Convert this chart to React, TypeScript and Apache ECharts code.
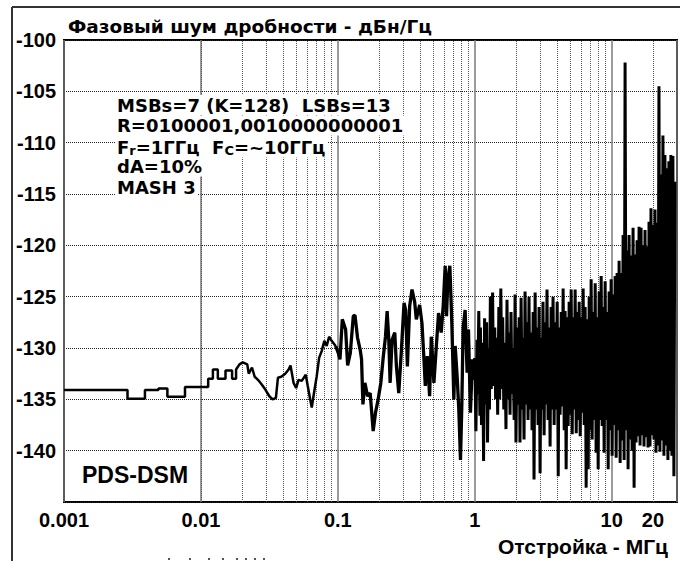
import React, { useEffect, useRef } from "react";
import * as echarts from "echarts";

// ---------- data ----------
const yMin = -145;
const yMax = -100;
const xMin = 0.001;
const xMax = 30;

// frequencies (MHz) for dotted minor grid lines
const minorGridFreqs = [
  0.002, 0.003, 0.004, 0.005, 0.006, 0.007, 0.008, 0.009,
  0.02, 0.03, 0.04, 0.05, 0.06, 0.07, 0.08, 0.09,
  0.2, 0.3, 0.4, 0.5, 0.6, 0.7, 0.8, 0.9,
  2, 3, 4, 5, 6, 7, 8, 9, 20,
];
const extraTickLabels = [20];

// [offset MHz, dBc/Hz]
const lowBand: [number, number][] = [
  [0.001, -134.1], [0.00291, -134.1], [0.00291, -134.95], [0.0039, -134.95], [0.0039, -134.1],
  [0.00489, -134.1], [0.00489, -133.95], [0.00569, -133.95], [0.00569, -134.75], [0.00765, -134.75],
  [0.00765, -133.8], [0.0113, -133.8], [0.0113, -133.0], [0.01223, -133.0], [0.01223, -132.1],
  [0.01329, -132.1], [0.01329, -133.0], [0.01512, -133.0], [0.01512, -132.2], [0.01689, -132.2],
  [0.01689, -133.0], [0.01806, -133.0], [0.01806, -132.1], [0.01912, -131.6], [0.02021, -131.4],
  [0.0218, -131.6], [0.02234, -132.5], [0.0236, -131.9], [0.0247, -132.8], [0.0261, -133.1],
  [0.02763, -133.5], [0.02955, -134.05], [0.0316, -134.7], [0.0334, -135.0], [0.0353, -134.85],
  [0.0365, -132.9], [0.0386, -132.8], [0.0413, -132.5], [0.0437, -132.1], [0.0451, -131.7],
  [0.0461, -132.4], [0.0475, -133.4], [0.0496, -133.9], [0.0516, -133.1], [0.0545, -133.2],
  [0.0583, -132.6], [0.0603, -133.7], [0.0628, -135.0], [0.0645, -135.8], [0.0664, -134.7],
  [0.0701, -132.75], [0.073, -130.96], [0.0762, -130.3], [0.0797, -129.3], [0.0829, -129.8],
  [0.0863, -128.9], [0.0901, -129.3], [0.0964, -129.8],
];

const midBand: [number, number][] = [
  [0.0964, -129.8], [0.1008, -130.5], [0.1037, -131.1], [0.1078, -127.2], [0.114, -128.2],
  [0.1179, -131.7], [0.1233, -130.5], [0.1297, -126.9], [0.1334, -126.8], [0.1393, -129.0],
  [0.1457, -130.2], [0.149, -131.1], [0.1525, -135.5], [0.1577, -133.4], [0.1649, -134.7],
  [0.1723, -134.4], [0.1812, -138.1], [0.1884, -136.3], [0.197, -135.0], [0.206, -133.4],
  [0.2142, -131.0], [0.2228, -128.9], [0.2291, -126.4], [0.2356, -129.2], [0.2409, -133.4],
  [0.2491, -129.2], [0.2605, -128.5], [0.2679, -131.8], [0.2786, -134.4], [0.2912, -130.2],
  [0.3045, -125.6], [0.3131, -126.3], [0.3221, -131.8], [0.3348, -125.9], [0.3481, -124.3],
  [0.364, -125.5], [0.3743, -127.2], [0.3959, -125.8], [0.4116, -127.6], [0.4257, -131.1],
  [0.4353, -133.7], [0.45, -130.8], [0.4681, -134.7], [0.4813, -128.9], [0.5032, -133.4],
  [0.5232, -130.0], [0.5441, -126.6], [0.5689, -128.5], [0.5882, -125.9], [0.6082, -122.0],
  [0.622, -126.9], [0.6361, -123.3], [0.6578, -122.0], [0.6802, -127.6], [0.7035, -135.0],
  [0.7194, -129.8], [0.7438, -132.8], [0.7648, -136.0], [0.7866, -140.9], [0.8043, -135.7],
  [0.8226, -128.0], [0.8505, -126.3], [0.8795, -132.4], [0.8995, -128.2], [0.93, -136.3],
  [0.9617, -131.1], [0.9944, -133.1], [1.0, -131.0],
];

// dense part above 1 MHz: offsets (MHz) and levels (dBc/Hz)
const noiseFreqs = [
  1.0, 1.02, 1.04, 1.05, 1.07, 1.09, 1.1, 1.12, 1.14, 1.16, 1.18, 1.2, 1.22, 1.24, 1.26, 1.28,
  1.3, 1.32, 1.35, 1.37, 1.4, 1.42, 1.45, 1.47, 1.5, 1.52, 1.55, 1.58, 1.6, 1.63, 1.66, 1.69,
  1.72, 1.75, 1.78, 1.81, 1.84, 1.87, 1.9, 1.94, 1.97, 2.0, 2.04, 2.07, 2.11, 2.14, 2.18, 2.22,
  2.25, 2.29, 2.33, 2.37, 2.41, 2.45, 2.49, 2.53, 2.58, 2.62, 2.67, 2.71, 2.76, 2.8, 2.85, 2.9,
  2.95, 3.0, 3.05, 3.1, 3.15, 3.21, 3.26, 3.32, 3.37, 3.43, 3.49, 3.55, 3.61, 3.67, 3.73, 3.8,
  3.86, 3.93, 4.0, 4.07, 4.13, 4.2, 4.28, 4.35, 4.42, 4.5, 4.57, 4.65, 4.73, 4.81, 4.89, 4.98,
  5.06, 5.15, 5.23, 5.32, 5.41, 5.51, 5.6, 5.69, 5.79, 5.89, 5.99, 6.09, 6.19, 6.3, 6.4, 6.51,
  6.62, 6.74, 6.85, 6.97, 7.08, 7.2, 7.33, 7.45, 7.58, 7.7, 7.84, 7.97, 8.1, 8.24, 8.38, 8.52,
  8.67, 8.81, 8.96, 9.11, 9.27, 9.43, 9.58, 9.75, 9.91, 10.08, 10.25, 10.42, 10.6, 10.78, 10.96, 11.15,
  11.33, 11.53, 11.72, 11.92, 12.12, 12.33, 12.53, 12.75, 12.96, 13.18, 13.4, 13.63, 13.86, 14.1, 14.33, 14.58,
  14.82, 15.07, 15.33, 15.59, 15.85, 16.12, 16.39, 16.67, 16.95, 17.23, 17.52, 17.82, 18.12, 18.43, 18.74, 19.05,
  19.37, 19.7, 20.03, 20.37, 20.72, 21.07, 21.42, 21.78, 22.15, 22.52, 22.9, 23.29, 23.68, 24.08, 24.49, 24.9,
  25.32, 25.75, 26.18, 26.62, 27.07, 27.53, 28.0, 28.47, 28.95,
];
const noiseLevels = [
  -131.0, -138.1, -129.2, -134.5, -126.4, -136.6, -128.0, -137.5, -129.5, -141.0, -127.1, -135.5, -127.5, -139.2, -130.0, -136.0,
  -125.0, -134.0, -124.6, -133.7, -128.0, -135.0, -129.0, -136.5, -126.0, -135.0, -124.2, -134.0, -127.0, -136.0, -129.5, -137.9,
  -125.3, -135.0, -128.5, -136.5, -126.5, -134.5, -130.0, -137.0, -124.8, -139.2, -128.0, -135.5, -127.0, -139.2, -125.1, -136.0,
  -129.0, -138.9, -124.5, -135.5, -127.5, -137.0, -125.0, -136.0, -128.5, -138.0, -126.5, -142.8, -124.6, -136.0, -128.0, -137.5,
  -126.0, -142.2, -129.0, -136.0, -125.5, -138.5, -127.5, -135.5, -124.3, -137.0, -128.0, -139.6, -126.0, -136.0, -125.0, -137.5,
  -127.5, -136.0, -125.5, -142.5, -128.0, -136.5, -126.5, -135.7, -124.2, -138.0, -126.4, -141.8, -127.0, -137.6, -125.5, -136.5,
  -124.3, -138.4, -127.0, -136.0, -124.3, -138.3, -126.5, -137.0, -125.5, -138.6, -127.0, -136.3, -124.2, -137.5, -126.0, -143.6,
  -127.2, -141.8, -125.0, -138.0, -123.3, -138.9, -126.5, -137.0, -123.7, -140.2, -127.0, -141.8, -124.5, -137.0, -123.0, -137.6,
  -126.0, -140.2, -123.5, -137.0, -126.5, -141.8, -124.5, -138.0, -123.3, -140.5, -124.8, -137.5, -123.0, -140.7, -122.7, -138.0,
  -121.5, -141.2, -122.7, -139.0, -119.0, -140.9, -102.2, -138.0, -120.5, -141.8, -119.0, -138.9, -121.0, -140.0, -118.3, -143.6,
  -120.9, -139.2, -119.5, -138.6, -118.2, -139.5, -118.3, -138.5, -120.0, -139.6, -118.5, -138.7, -120.1, -139.7, -117.7, -139.6,
  -116.4, -138.5, -118.0, -138.9, -116.5, -140.2, -117.8, -139.5, -104.5, -140.1, -113.1, -139.0, -109.3, -140.5, -111.2, -139.5,
  -112.5, -140.9, -111.8, -140.0, -111.2, -140.5, -111.3, -142.5, -113.8,
];

const titleText = "Фазовый шум дробности - дБн/Гц";
const xAxisTitle = "Отстройка - МГц";
const noteLines = [
  "MSBs=7 (K=128)  LSBs=13",
  "R=0100001,0010000000001",
  "{n|F}{s|r}{n|=1ГГц  F}{s|C}{n|=~10ГГц}",
  "dA=10%",
  "MASH 3",
];
const modelLabel = "PDS-DSM";

const FONT = '"Liberation Sans", Arial, Helvetica, sans-serif';
const WIDE_FONT = '"DejaVu Sans", Verdana, sans-serif';

export default function App() {
  const ref = useRef<HTMLDivElement>(null);

  useEffect(() => {
    const chart = echarts.init(ref.current as HTMLDivElement, null, { renderer: "svg" });
    const highBand = noiseFreqs.map((f, i) => [f, noiseLevels[i]]);
    const lineSeries = (data: any[], width: number) => ({
      type: "line",
      z: 5,
      showSymbol: false,
      symbol: "none",
      silent: true,
      data,
      lineStyle: { color: "#000", width },
    });

    const option: any = {
      animation: false,
      backgroundColor: "#fff",
      grid: {
        left: 64,
        right: 0,
        top: 40,
        bottom: 59,
        show: true,
        borderColor: "#000",
        borderWidth: 2,
        backgroundColor: "transparent",
      },
      xAxis: {
        type: "log",
        logBase: 10,
        min: xMin,
        max: xMax,
        axisLine: { show: false },
        axisTick: { show: false },
        splitLine: { show: true, lineStyle: { color: "#7a7a7a", width: 1.5, type: "solid" } },
        axisLabel: {
          color: "#000",
          fontSize: 20,
          fontWeight: "bold",
          fontFamily: FONT,
          margin: 8,
          formatter: (v: number) => {
            const l = Math.log10(v);
            return Math.abs(l - Math.round(l)) < 1e-6 ? String(+v.toPrecision(6)) : "";
          },
        },
      },
      yAxis: {
        type: "value",
        min: yMin,
        max: yMax,
        interval: 5,
        axisLine: { show: false },
        axisTick: { show: false },
        splitLine: { show: true, lineStyle: { color: "#222", width: 1, type: "dotted" } },
        axisLabel: {
          color: "#000",
          fontSize: 20,
          fontWeight: "bold",
          fontFamily: FONT,
          margin: 8,
          formatter: (v: number) => (v === yMin ? "" : String(v)),
        },
      },
      series: [
        {
          type: "line",
          data: [],
          z: 1,
          silent: true,
          markLine: {
            silent: true,
            symbol: ["none", "none"],
            label: { show: false },
            lineStyle: { color: "#555", width: 1, type: "dotted" },
            emphasis: { disabled: true },
            data: minorGridFreqs.map((f) => ({ xAxis: f })),
          },
        },
        lineSeries(lowBand, 2.5),
        lineSeries(midBand, 3.3),
        lineSeries(highBand, 3),
      ],
    };
    chart.setOption(option);

    const bottomY = chart.convertToPixel({ gridIndex: 0 }, [1, yMin])[1];
    const extraLabels = extraTickLabels.map((f) => {
      const p = chart.convertToPixel({ gridIndex: 0 }, [f, yMin]);
      return {
        type: "text",
        x: p[0],
        y: bottomY + 8,
        z: 10,
        style: {
          text: String(f),
          fill: "#000",
          fontSize: 20,
          fontWeight: "bold",
          fontFamily: FONT,
          textAlign: "center",
          textVerticalAlign: "top",
        },
      };
    });

    const noteRowsY = [105, 125.5, 146, 166.5, 187];
    const notes = noteLines.map((t, i) => ({
      type: "text",
      x: 115,
      y: noteRowsY[i],
      z: 20,
      style: {
        text: t,
        fill: "#000",
        fontSize: 18,
        fontWeight: "bold",
        fontFamily: WIDE_FONT,
        textAlign: "left",
        textVerticalAlign: "middle",
        backgroundColor: "#fff",
        padding: [1, 2, 1, 2],
        rich: {
          n: { fontSize: 18, fontWeight: "bold", fontFamily: WIDE_FONT, verticalAlign: "bottom", lineHeight: 21 },
          s: { fontSize: 13, fontWeight: "bold", fontFamily: WIDE_FONT, verticalAlign: "bottom", lineHeight: 16 },
        },
      },
    }));

    const dotsX = [169, 190, 209, 223, 237, 246, 255, 264];
    const dots = dotsX.map((x) => ({
      type: "rect",
      shape: { x: x - 1, y: 558, width: 2, height: 2 },
      style: { fill: "#555" },
      z: 10,
    }));

    chart.setOption({
      graphic: [
        { type: "line", shape: { x1: 12, y1: 7, x2: 680, y2: 7 }, style: { stroke: "#333", lineWidth: 2 }, z: 10 },
        { type: "line", shape: { x1: 12, y1: 7, x2: 12, y2: 561 }, style: { stroke: "#333", lineWidth: 2 }, z: 10 },
        {
          type: "text",
          x: 68,
          y: 26,
          z: 10,
          style: {
            text: titleText,
            fill: "#000",
            fontSize: 18.5,
            fontWeight: "bold",
            fontFamily: WIDE_FONT,
            textAlign: "left",
            textVerticalAlign: "middle",
          },
        },
        {
          type: "text",
          x: 668,
          y: 546,
          z: 10,
          style: {
            text: xAxisTitle,
            fill: "#000",
            fontSize: 21,
            fontWeight: "bold",
            fontFamily: FONT,
            textAlign: "right",
            textVerticalAlign: "middle",
          },
        },
        {
          type: "text",
          x: 80,
          y: 475,
          z: 20,
          style: {
            text: modelLabel,
            fill: "#000",
            fontSize: 23,
            fontWeight: "bold",
            fontFamily: FONT,
            textAlign: "left",
            textVerticalAlign: "middle",
            backgroundColor: "#fff",
            padding: [1, 2, 1, 2],
          },
        },
        ...notes,
        ...extraLabels,
        ...dots,
      ],
    });

    return () => chart.dispose();
  }, []);

  return (
    <div
      ref={ref}
      style={{ position: "absolute", left: 0, top: 0, width: 680, height: 561, background: "#fff" }}
    />
  );
}
